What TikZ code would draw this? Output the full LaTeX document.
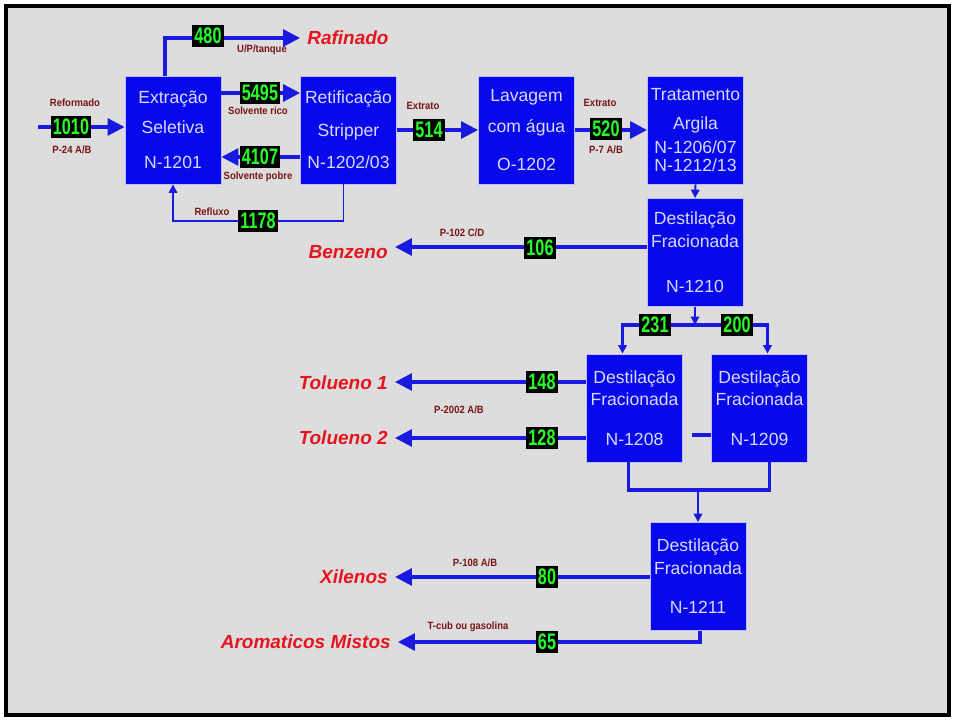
\documentclass[tikz,border=0pt]{standalone}
\usepackage{fontspec}
\setmainfont{Liberation Sans}
\newfontfamily\numfont{Liberation Sans}[FakeStretch=0.72]
\newfontfamily\tagfont{Liberation Sans}[FakeStretch=0.9]
\usetikzlibrary{positioning,arrows.meta,calc}

\definecolor{bggray}{RGB}{221,221,221}
\definecolor{unitblue}{RGB}{8,8,236}
\definecolor{pipeblue}{RGB}{25,25,225}
\definecolor{numgreen}{RGB}{40,255,40}
\definecolor{prodred}{RGB}{230,20,30}
\definecolor{tagred}{RGB}{120,20,20}

\begin{document}
\begin{tikzpicture}[x=0.025cm, y=-0.025cm,
  unit/.style={rectangle, fill=unitblue, draw=blue!25!white, line width=0.6pt,
    minimum width=2.4cm, minimum height=2.7cm, inner sep=0pt, align=center,
    text=white!85!blue, font=\fontsize{12.5}{15}\selectfont},
  flowrate/.style={fill=black, text=numgreen, inner xsep=1.5pt, inner ysep=2pt,
    font=\numfont\bfseries\fontsize{16}{16}\selectfont},
  product/.style={text=prodred, inner xsep=5pt,
    font=\bfseries\itshape\fontsize{13.5}{16}\selectfont},
  tag/.style={text=tagred, inner sep=0pt, font=\tagfont\bfseries\fontsize{7.5}{8}\selectfont},
  pipe/.style={draw=pipeblue, line width=2.2pt},
  thinpipe/.style={draw=pipeblue, line width=1.4pt},
  bigarrow/.style={-{Triangle[length=12pt,width=12pt]}},
  smallarrow/.style={-{Triangle[length=6pt,width=6pt]}}]

\useasboundingbox (0,0) rectangle (954,720);
\draw[line width=2.2pt, fill=bggray] (6,6) rectangle (949,715);

% process units
\node[unit] (ext) at (173,130) {Extração\\[6pt]Seletiva\\[10pt]N-1201};
\node[unit] (ret) at (348.5,130) {Retificação\\[8pt]Stripper\\[8pt]N-1202/03};
\node[unit] (lav) at (526.5,130) {Lavagem\\[7pt]com água\\[12pt]O-1202};
\node[unit] (trat) at (695.5,130) {Tratamento\\[5.5pt]Argila\\[2pt]N-1206/07\\[-2pt]N-1212/13};
\node[unit] (d1210) at (695,252.5) {Destilação\\[1.4pt]Fracionada\\[17pt]N-1210};
\node[unit] (d1208) at (634.5,408) {Destilação\\[1pt]Fracionada\\[13pt]N-1208};
\node[unit] (d1209) at (759.5,408) {Destilação\\[1pt]Fracionada\\[13pt]N-1209};
\node[unit] (d1211) at (698,576.5) {Destilação\\[1pt]Fracionada\\[13pt]N-1211};

% products
\node[product, anchor=west] (raf) at (300,38) {Rafinado};
\node[product, anchor=east] (benz) at (395,252) {Benzeno};
\node[product, anchor=east] (tol1) at (395,383) {Tolueno 1};
\node[product, anchor=east] (tol2) at (395,438) {Tolueno 2};
\node[product, anchor=east] (xil) at (395,577) {Xilenos};
\node[product, anchor=east] (arom) at (398,642) {Aromaticos Mistos};

% connectors
\coordinate (feed) at (38,127);
\draw[pipe, bigarrow] (feed) -- (feed -| ext.west);
\draw[pipe, bigarrow] ($(ext.north)+(-8,0)$) |- (raf.west);
\draw[pipe, bigarrow] ($(ext.east)+(0,-37)$) -- ($(ret.west)+(0,-37)$);
\draw[pipe, bigarrow] ($(ret.west)+(0,27)$) -- ($(ext.east)+(0,27)$);
\draw[thinpipe, smallarrow] ($(ret.south)+(-5,0)$) |- ($(ext.south)+(0,37)$) -- (ext.south);
\draw[pipe, bigarrow] (ret.east) -- (lav.west);
\draw[pipe, bigarrow] (lav.east) -- (trat.west);
\draw[thinpipe, smallarrow] (trat.south) -- (d1210.north);
\draw[pipe, bigarrow] (d1210.west |- 0,247) -- (benz.east |- 0,247);

\coordinate (split) at (695,325);
\draw[thinpipe, smallarrow] (d1210.south) -- (split);
\draw[pipe, smallarrow] (split) -| ($(d1208.north)+(-12,0)$);
\draw[pipe, smallarrow] (split) -| ($(d1209.north)+(8,0)$);

\draw[pipe, bigarrow] (d1208.west |- 0,382) -- (tol1.east |- 0,382);
\draw[pipe, bigarrow] (d1208.west |- 0,438) -- (tol2.east |- 0,438);
\coordinate (stub) at (692,435);
\draw[pipe] (d1209.west |- stub) -- (stub);

\coordinate (merge) at (698,490);
\draw[pipe] ($(d1208.south)+(-6,0)$) |- (merge);
\draw[pipe] ($(d1209.south)+(10,0)$) |- (merge);
\draw[thinpipe, smallarrow] (merge) -- (d1211.north);

\draw[pipe, bigarrow] (d1211.west |- 0,577) -- (xil.east |- 0,577);
\draw[pipe, bigarrow] ($(d1211.south)+(2,0)$) |- (arom.east);

% flow rates
\node[flowrate] (q1010) at (71,127) {1010};
\node[flowrate] (q480) at (208,36) {480};
\node[flowrate] (q5495) at (260,93) {5495};
\node[flowrate] (q4107) at (260,157) {4107};
\node[flowrate] (q1178) at (258,221) {1178};
\node[flowrate] (q514) at (429,130) {514};
\node[flowrate] (q520) at (606,129) {520};
\node[flowrate] (q106) at (540,248) {106};
\node[flowrate] (q231) at (655,325) {231};
\node[flowrate] (q200) at (737,325) {200};
\node[flowrate] (q148) at (542,382) {148};
\node[flowrate] (q128) at (542,438) {128};
\node[flowrate] (q80) at (547,577) {80};
\node[flowrate] (q65) at (547,642) {65};

% stream tags
\node[tag] (tReform) at (75,103) {Reformado};
\node[tag] (tP24) at (72,150) {P-24 A/B};
\node[tag] (tTanque) at (262,50) {U/P/tanque};
\node[tag] (tRico) at (258,111) {Solvente rico};
\node[tag] (tPobre) at (258,177) {Solvente pobre};
\node[tag] (tReflux) at (212,212) {Refluxo};
\node[tag] (tExtA) at (423,106) {Extrato};
\node[tag] (tExtB) at (600,103) {Extrato};
\node[tag] (tP7) at (606,150) {P-7 A/B};
\node[tag] (tP102) at (462,233) {P-102 C/D};
\node[tag] (tP2002) at (459,410) {P-2002 A/B};
\node[tag] (tP108) at (475,563) {P-108 A/B};
\node[tag] (tTcub) at (468,627) {T-cub ou gasolina};
\end{tikzpicture}
\end{document}
